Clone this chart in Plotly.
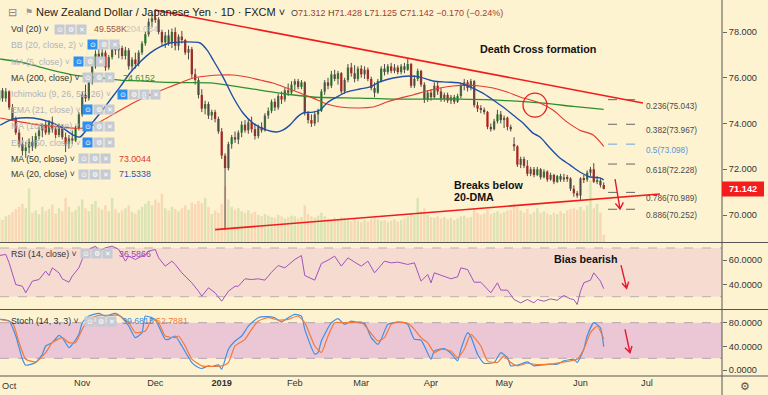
import plotly.graph_objects as go

# ---------------- data ----------------
# bar index 0 = 1 Oct 2018 (no bars on 25 Dec and 1 Jan)
FIRST_BAR = -2
month_ticks = [0, 23, 45, 65, 87, 107, 128, 150, 173, 193]
month_labels = ["Oct", "Nov", "Dec", "<b>2019</b>", "Feb", "Mar", "Apr", "May", "Jun", "Jul"]
price_ticks = [70, 72, 74, 76, 78]
rsi_ticks = [40, 60]
stoch_ticks = [0, 40, 80]

opens = [
    75.00, 75.45, 75.10, 75.40, 74.70, 74.20, 73.60, 73.10, 72.80, 72.95,
    73.20, 73.00, 73.45, 73.70, 73.95, 73.60, 74.05, 73.75, 73.50, 73.90,
    73.40, 73.10, 73.35, 73.25, 73.80, 74.40, 75.25, 75.10, 75.80, 76.50,
    77.05, 76.70, 77.10, 76.45, 76.90, 77.35, 77.20, 77.30, 76.95, 77.20,
    76.50, 76.80, 76.60, 77.10, 77.50, 77.90, 78.45, 78.60, 78.55, 78.00,
    77.55, 77.85, 77.50, 78.00, 77.40, 77.80, 77.65, 77.10, 77.25, 76.15,
    75.90, 75.25, 74.65, 74.85, 74.35, 74.50, 74.20, 73.65, 72.60, 72.05,
    73.10, 73.40, 73.30, 73.60, 73.95, 73.70, 74.05, 73.75, 73.45, 73.85,
    73.70, 74.35, 74.55, 74.95, 74.70, 75.20, 75.05, 75.45, 75.35, 75.70,
    75.85, 75.60, 75.80, 74.45, 74.15, 74.00, 74.40, 74.55, 75.40, 75.80,
    75.65, 76.15, 75.95, 76.20, 75.40, 75.90, 76.45, 76.20, 75.95, 76.40,
    76.15, 76.35, 75.95, 75.55, 75.35, 75.85, 76.40, 76.25, 76.50, 76.30,
    76.45, 76.25, 76.50, 76.35, 76.60, 75.65, 75.95, 76.30, 75.70, 75.05,
    75.35, 75.15, 75.65, 75.40, 75.10, 75.25, 75.00, 75.15, 74.95, 75.20,
    75.65, 75.80, 75.55, 75.85, 74.80, 74.65, 74.60, 74.50, 73.85, 73.75,
    74.10, 74.40, 74.15, 74.25, 73.85, 73.10, 73.00, 72.20, 72.45, 72.15,
    71.80, 72.00, 71.75, 72.00, 71.65, 71.90, 71.55, 71.75, 71.45, 71.70,
    71.55, 71.65, 71.60, 71.15, 70.95, 70.85, 71.60, 71.55, 71.85, 72.00,
    71.45, 71.50, 71.312]
highs = [
    75.60, 75.55, 75.55, 75.45, 74.85, 74.30, 73.75, 73.40, 73.20, 73.35,
    73.45, 73.60, 73.85, 74.00, 74.10, 74.15, 74.30, 73.90, 74.00, 73.95,
    73.60, 73.50, 73.70, 73.90, 74.50, 75.40, 75.70, 75.90, 76.60, 77.20,
    77.25, 77.30, 77.20, 77.00, 77.50, 77.55, 77.45, 77.40, 77.35, 77.30,
    76.90, 77.10, 77.20, 77.60, 78.00, 78.60, 78.80, 79.00, 78.65, 78.10,
    78.00, 78.10, 78.15, 78.20, 77.90, 78.05, 77.70, 77.40, 77.35, 76.40,
    76.00, 75.50, 75.00, 74.95, 74.60, 74.60, 74.30, 73.80, 72.70, 73.20,
    73.50, 73.65, 73.70, 74.10, 74.15, 74.20, 74.30, 74.00, 73.95, 74.05,
    74.45, 74.70, 75.05, 75.10, 75.30, 75.40, 75.55, 75.75, 75.85, 75.95,
    75.95, 75.90, 75.85, 74.55, 74.40, 74.50, 74.65, 75.50, 75.90, 76.00,
    76.30, 76.35, 76.30, 76.25, 76.00, 76.60, 76.65, 76.55, 76.50, 76.55,
    76.50, 76.45, 76.05, 75.80, 75.95, 76.50, 76.60, 76.60, 76.65, 76.60,
    76.55, 76.60, 76.65, 76.85, 76.65, 76.10, 76.40, 76.35, 75.80, 75.45,
    75.50, 75.80, 75.85, 75.55, 75.35, 75.35, 75.25, 75.25, 75.30, 75.75,
    75.95, 75.90, 75.95, 75.90, 74.95, 74.80, 74.70, 74.55, 74.00, 74.20,
    74.60, 74.55, 74.35, 74.30, 73.95, 73.40, 73.05, 72.55, 72.55, 72.40,
    72.10, 72.10, 72.10, 72.05, 72.00, 71.95, 71.85, 71.80, 71.75, 71.80,
    71.80, 71.75, 71.65, 71.30, 71.05, 71.65, 71.75, 71.95, 72.10, 72.27,
    71.70, 71.60, 71.428]
lows = [
    74.90, 74.95, 74.95, 74.60, 74.10, 73.50, 72.95, 72.60, 72.50, 72.70,
    72.80, 72.90, 73.30, 73.40, 73.50, 73.50, 73.60, 73.35, 73.40, 73.30,
    72.75, 72.90, 73.10, 73.20, 73.70, 74.30, 74.95, 75.00, 75.70, 76.40,
    76.50, 76.50, 76.30, 76.35, 76.80, 77.00, 76.85, 76.80, 76.80, 76.35,
    76.30, 76.40, 76.50, 77.00, 77.40, 77.80, 78.20, 78.40, 77.90, 77.40,
    77.30, 77.40, 77.30, 77.20, 77.20, 77.50, 77.00, 76.80, 76.00, 75.70,
    75.10, 74.50, 74.40, 74.20, 74.15, 74.05, 73.55, 72.45, 69.35, 71.95,
    72.90, 73.15, 73.10, 73.40, 73.60, 73.55, 73.60, 73.30, 73.35, 73.60,
    73.65, 74.20, 74.45, 74.55, 74.60, 74.85, 74.95, 75.20, 75.25, 75.45,
    75.50, 75.50, 74.35, 74.00, 73.85, 73.90, 74.05, 74.50, 75.25, 75.50,
    75.55, 75.85, 75.70, 75.30, 75.30, 75.80, 76.05, 75.80, 75.85, 76.00,
    75.95, 75.85, 75.45, 75.15, 75.30, 75.80, 76.10, 76.15, 76.20, 76.20,
    76.15, 76.15, 76.20, 76.30, 75.55, 75.55, 75.85, 75.60, 74.90, 74.95,
    75.00, 75.10, 75.25, 74.95, 74.95, 74.90, 74.85, 74.85, 74.90, 75.10,
    75.45, 75.40, 75.45, 74.70, 74.50, 74.45, 74.40, 73.75, 73.65, 73.70,
    74.00, 74.00, 73.80, 73.70, 73.65, 72.80, 72.10, 72.05, 72.05, 71.70,
    71.70, 71.65, 71.70, 71.55, 71.60, 71.45, 71.50, 71.35, 71.40, 71.45,
    71.45, 71.45, 71.05, 70.80, 70.75, 70.66, 71.40, 71.45, 71.70, 71.40,
    71.35, 71.20, 71.125]
closes = [
    75.45, 75.10, 75.40, 74.70, 74.20, 73.60, 73.10, 72.80, 72.95, 73.20,
    73.00, 73.45, 73.70, 73.95, 73.60, 74.05, 73.75, 73.50, 73.90, 73.40,
    73.10, 73.35, 73.25, 73.80, 74.40, 75.25, 75.10, 75.80, 76.50, 77.05,
    76.70, 77.10, 76.45, 76.90, 77.35, 77.20, 77.30, 76.95, 77.20, 76.50,
    76.80, 76.60, 77.10, 77.50, 77.90, 78.45, 78.60, 78.55, 78.00, 77.55,
    77.85, 77.50, 78.00, 77.40, 77.80, 77.65, 77.10, 77.25, 76.15, 75.90,
    75.25, 74.65, 74.85, 74.35, 74.50, 74.20, 73.65, 72.60, 72.05, 73.10,
    73.40, 73.30, 73.60, 73.95, 73.70, 74.05, 73.75, 73.45, 73.85, 73.70,
    74.35, 74.55, 74.95, 74.70, 75.20, 75.05, 75.45, 75.35, 75.70, 75.85,
    75.60, 75.80, 74.45, 74.15, 74.00, 74.40, 74.55, 75.40, 75.80, 75.65,
    76.15, 75.95, 76.20, 75.40, 75.90, 76.45, 76.20, 75.95, 76.40, 76.15,
    76.35, 75.95, 75.55, 75.35, 75.85, 76.40, 76.25, 76.50, 76.30, 76.45,
    76.25, 76.50, 76.35, 76.60, 75.65, 75.95, 76.30, 75.70, 75.05, 75.35,
    75.15, 75.65, 75.40, 75.10, 75.25, 75.00, 75.15, 74.95, 75.20, 75.65,
    75.80, 75.55, 75.85, 74.80, 74.65, 74.60, 74.50, 73.85, 73.75, 74.10,
    74.40, 74.15, 74.25, 73.85, 73.75, 73.00, 72.20, 72.45, 72.15, 71.80,
    72.00, 71.75, 72.00, 71.65, 71.90, 71.55, 71.75, 71.45, 71.70, 71.55,
    71.65, 71.60, 71.15, 70.95, 70.85, 71.60, 71.55, 71.85, 72.00, 71.45,
    71.50, 71.31, 71.142]
volume_k = [
    165, 150, 175, 185, 205, 225, 240, 260, 230, 365,
    200, 215, 190, 240, 210, 225, 255, 195, 230, 210,
    300, 240, 205, 220, 245, 290, 230, 210, 260, 280,
    235, 220, 250, 210, 300, 225, 200, 215, 230, 250,
    205, 195, 220, 240, 260, 280, 250, 290, 270, 330,
    230, 215, 240, 225, 210, 230, 250, 220, 270, 260,
    280, 265, 300, 240, 190, 215, 200, 260, 380, 290,
    240, 220, 230, 210, 200, 215, 195, 205, 185, 175,
    190, 180, 170, 165, 185, 175, 160, 170, 180, 175,
    160, 170, 250, 190, 175, 165, 180, 200, 175, 160,
    150, 165, 155, 170, 160, 150, 140, 155, 145, 135,
    150, 140, 160, 170, 155, 145, 150, 135, 145, 155,
    140, 150, 160, 175, 200, 180, 300, 210, 230, 185,
    170, 165, 175, 160, 170, 155, 165, 150, 160, 175,
    180, 165, 170, 230, 200, 185, 195, 220, 190, 200,
    210, 195, 205, 215, 220, 260, 240, 215, 200, 225,
    190, 205, 230, 200, 210, 195, 185, 200, 190, 210,
    195, 215, 225, 230, 220, 240, 215, 250, 420, 230,
    260, 200, 49.558]

ma20_x = [-1.7, 1.3, 4.3, 8.2, 13.3, 17.2, 20.2, 22.3, 24.7, 28.4,
          31.4, 34.4, 37.4, 40.4, 43.4, 46.4, 49.4, 52.4, 56.4, 58.5,
          60.6, 62.4, 65.4, 68.4, 71.4, 74.4, 78.6, 81.6, 83.4, 85.5,
          87.7, 89.5, 92.5, 94.6, 96.7, 99.7, 102.7, 106.6, 109.6, 112.6,
          116.6, 121.7, 124.7, 128.6, 132.8, 136.7, 139.7, 143.6, 146.7, 149.7,
          152.7, 155.7, 158.7, 160.8, 163.8, 166.8, 169.8, 172.8, 175.9, 178.9, 180]
ma20_y = [73.93, 74.15, 74.24, 74.24, 74.07, 73.80, 73.50, 73.41, 73.80, 74.46,
          75.03, 75.60, 76.21, 76.69, 77.08, 77.35, 77.52, 77.56, 77.56, 77.52,
          77.21, 76.78, 76.03, 75.16, 74.46, 74.02, 73.71, 73.63, 73.71, 73.93,
          74.28, 74.46, 74.50, 74.59, 74.90, 75.16, 75.38, 75.51, 75.60, 75.82,
          75.99, 76.08, 76.03, 75.86, 75.81, 75.77, 75.60, 75.33, 75.03, 74.72,
          74.37, 74.02, 73.58, 73.41, 72.93, 72.49, 72.19, 71.88, 71.66, 71.62, 71.5338]
ma50_x = [-1.7, 4.3, 10.3, 16.3, 20.2, 23.2, 26.3, 29.3, 33.5, 38.3,
          43.4, 48.5, 52.4, 56.4, 60.6, 64.5, 68.4, 72.6, 76.5, 80.4,
          84.6, 88.6, 92.5, 96.7, 100.6, 106.6, 110.5, 114.7, 118.7, 122.6,
          126.8, 130.7, 134.6, 138.8, 142.7, 146.7, 150.9, 154.8, 160.8, 164.7,
          168.9, 172.8, 176.8, 180]
ma50_y = [74.24, 74.07, 73.93, 73.85, 73.80, 73.80, 73.93, 74.15, 74.50, 74.90,
          75.25, 75.55, 75.77, 75.99, 76.08, 76.12, 76.12, 76.03, 75.90, 75.77,
          75.55, 75.33, 75.11, 74.85, 74.72, 74.68, 74.72, 74.94, 75.11, 75.25,
          75.42, 75.55, 75.64, 75.68, 75.64, 75.55, 75.38, 75.16, 74.90, 74.59,
          74.07, 73.71, 73.50, 73.0044]
ma200_x = [-1.7, 4.3, 10.3, 16.3, 22.3, 28.4, 34.4, 40.4, 46.4, 52.4, 62.4,
           72.6, 82.5, 92.5, 106.6, 116.6, 126.8, 136.7, 146.7, 160.8, 170.8, 180]
ma200_y = [76.82, 76.69, 76.47, 76.25, 76.08, 75.99, 75.90, 75.86, 75.81, 75.79, 75.77,
           75.55, 75.33, 75.16, 75.11, 75.07, 75.07, 75.07, 75.03, 74.90, 74.75, 74.6152]

rsi_x = [-2, 0, 1, 3, 5, 6, 8, 10, 12, 13, 14, 16, 17, 19, 20, 22, 23, 24, 25, 27,
         28, 30, 32, 34, 36, 37, 39, 42, 43, 45, 46, 48, 50, 51, 53, 56, 58, 59, 61, 63,
         65, 67, 69, 70, 72, 74, 76, 78, 80, 82, 84, 87, 89, 90, 93, 95, 97, 99, 101, 103,
         105, 107, 109, 111, 114, 116, 118, 121, 123, 125, 127, 128, 129, 132, 134, 136, 137, 139, 141, 143,
         146, 148, 149, 151, 153, 155, 156, 157, 159, 160, 162, 164, 166, 168, 170, 171, 172, 173, 174, 176,
         177, 179, 180]
rsi_y = [63.8, 64.7, 57.8, 40.0, 38.6, 33.2, 42.8, 44.1, 51.0, 47.4, 53.7, 49.6, 44.7, 41.9, 46.9, 53.7, 60.6, 66.0, 68.8, 71.5,
         67.4, 70.2, 71.5, 68.8, 59.2, 63.3, 60.6, 64.7, 67.4, 68.8, 61.9, 55.1, 59.2, 56.5, 49.6, 41.4, 34.5, 30.4, 37.3, 33.2,
         26.3, 34.5, 38.6, 38.6, 44.7, 44.1, 44.7, 43.6, 50.1, 55.6, 53.7, 60.6, 63.8, 47.4, 43.6, 57.3, 60.0, 63.3, 55.1, 61.9,
         58.4, 55.1, 59.2, 49.6, 59.2, 57.8, 58.4, 56.5, 57.8, 42.8, 48.2, 41.4, 49.6, 46.9, 44.7, 46.3, 53.7, 52.3, 41.9, 41.9,
         33.2, 41.4, 35.4, 35.4, 27.7, 24.9, 26.3, 27.7, 24.9, 27.7, 26.3, 28.2, 27.1, 31.0, 28.2, 27.7, 23.6, 34.5, 41.4, 43.6,
         49.6, 42.8, 36.5866]

stoch_k_x = [-2, 1, 3, 5, 6, 9, 11, 12, 14, 16, 17, 19, 20, 22, 23, 25, 28, 30, 33, 35,
             37, 39, 41, 42, 44, 45, 48, 49, 51, 53, 56, 58, 59, 61, 62, 64, 65, 67, 69, 71,
             73, 76, 78, 81, 83, 85, 87, 89, 90, 93, 94, 95, 98, 100, 102, 104, 106, 108, 110, 112,
             113, 115, 118, 120, 121, 123, 125, 126, 128, 129, 132, 134, 136, 137, 139, 140, 142, 144, 147, 149,
             151, 152, 154, 157, 159, 161, 164, 166, 168, 171, 172, 174, 175, 177, 179, 180]
stoch_k_y = [85.6, 82.8, 57.6, 18.5, 8.4, 12.9, 26.9, 40.8, 46.4, 58.7, 54.8, 38.0, 43.6, 60.4, 80.0, 91.2, 95.7, 91.2, 95.7, 88.4,
             74.4, 54.8, 63.2, 91.2, 88.4, 85.6, 52.0, 52.0, 57.6, 40.8, 12.9, 4.5, 2.8, 7.3, 6.2, 9.0, 1.7, 35.2, 49.2, 57.6,
             74.4, 88.4, 90.1, 88.4, 81.1, 88.4, 94.0, 91.2, 68.8, 26.9, 29.6, 49.2, 80.0, 86.7, 77.2, 82.8, 80.0, 78.9, 54.8, 43.6,
             52.0, 77.2, 81.1, 80.0, 77.2, 52.0, 50.9, 40.8, 18.5, 32.4, 36.4, 28.5, 15.7, 35.2, 63.2, 56.5, 26.9, 11.7, 12.9, 29.6,
             21.3, 7.3, 8.4, 14.0, 7.3, 8.4, 10.1, 10.1, 15.7, 18.5, 12.9, 35.2, 57.6, 80.0, 71.6, 39.6815]
stoch_d_x = [-2, 2, 4, 6, 9, 12, 14, 17, 19, 21, 23, 25, 28, 31, 34, 37, 39, 42, 44, 46,
             48, 51, 52, 54, 56, 59, 62, 65, 67, 69, 72, 74, 76, 79, 82, 85, 88, 90, 93, 95,
             97, 99, 101, 104, 107, 109, 112, 114, 116, 118, 121, 123, 125, 127, 129, 131, 134, 136, 138, 140,
             143, 145, 148, 150, 152, 154, 157, 160, 164, 167, 170, 172, 174, 176, 178, 180]
stoch_d_y = [85.6, 80.0, 46.4, 18.5, 14.0, 29.6, 46.4, 54.8, 46.4, 46.4, 68.8, 85.6, 92.3, 92.3, 92.3, 80.0, 63.2, 66.0, 85.6, 80.0,
             57.6, 54.8, 57.6, 40.8, 18.5, 7.3, 6.2, 7.3, 12.9, 40.8, 52.0, 68.8, 82.8, 88.4, 84.5, 85.6, 91.2, 80.0, 40.8, 29.6,
             57.6, 80.0, 80.0, 80.0, 81.1, 68.8, 49.2, 54.8, 77.2, 81.1, 78.9, 68.8, 54.8, 46.4, 29.6, 35.2, 32.4, 21.3, 35.2, 60.4,
             40.8, 15.7, 12.9, 24.1, 12.9, 7.3, 11.7, 9.5, 10.1, 12.9, 15.7, 18.5, 35.2, 63.2, 74.4, 52.7881]

fib_ratios = ["0.236", "0.382", "0.5", "0.618", "0.786", "0.886"]
fib_levels = [75.043, 73.967, 73.098, 72.228, 70.989, 70.252]
fib_span = [181.3, 190.9]          # bar-index extent of the fib segments

# drawings (bar index, value)
upper_trend = [(44.9, 78.96), (191.8, 74.90)]
lower_trend = [(63.0, 69.36), (196.9, 70.92)]
cross_circle = [(155.7, 74.28), (162.9, 75.33)]
price_arrow = [(183.4, 71.57), (184.9, 70.26), (183.5, 70.51), (185.9, 70.55)]
rsi_arrow = [(185.2, 56.0), (186.9, 36.9), (185.5, 41.1), (187.5, 42.4)]
stoch_arrow = [(186.4, 68.9), (187.9, 29.4), (186.4, 37.9), (188.5, 40.7)]

last_price = 71.142

# ---------------- styling ----------------
FONT = "Liberation Sans, Arial, sans-serif"
BG = "#FEF3D1"
UP, DN = "#3b8d3d", "#bd2a22"
W_PLOT, H_PLOT = 722, 376
X_RANGE = [-1.75, 215.6]


def px(x):
    return x / W_PLOT


def py(y):
    return (H_PLOT - y) / H_PLOT


n = len(closes)
bars = list(range(FIRST_BAR, FIRST_BAR + n))
is_up = [c >= o for o, c in zip(opens, closes)]
body_base = [min(o, c) for o, c in zip(opens, closes)]
body_len = [max(abs(c - o), 0.015) for o, c in zip(opens, closes)]
wick_x, wick_y = [], []
for b, lo, hi in zip(bars, lows, highs):
    wick_x += [b, b, None]
    wick_y += [lo, hi, None]

fig = go.Figure()
fig.add_trace(go.Bar(x=bars, y=volume_k, width=0.75, xaxis="x", yaxis="y",
                     marker=dict(color=["rgba(120,180,90,0.26)" if u else "rgba(235,135,95,0.26)" for u in is_up],
                                 line_width=0)))
fig.add_trace(go.Scatter(x=wick_x, y=wick_y, mode="lines", xaxis="x", yaxis="y4",
                         line=dict(color="#4a4a4a", width=1)))
fig.add_trace(go.Bar(x=bars, y=body_len, base=body_base, width=0.7, xaxis="x", yaxis="y4",
                     marker=dict(color=[UP if u else DN for u in is_up], line_width=0)))
fig.add_trace(go.Scatter(x=ma200_x, y=ma200_y, mode="lines", xaxis="x", yaxis="y4",
                         line=dict(color="#2f8f2f", width=1.3, shape="spline", smoothing=0.8)))
fig.add_trace(go.Scatter(x=ma50_x, y=ma50_y, mode="lines", xaxis="x", yaxis="y4",
                         line=dict(color="#e23b32", width=1.1, shape="spline", smoothing=0.8)))
fig.add_trace(go.Scatter(x=ma20_x, y=ma20_y, mode="lines", xaxis="x", yaxis="y4",
                         line=dict(color="#1f4fa8", width=1.4, shape="spline", smoothing=0.8)))
fig.add_trace(go.Scatter(x=rsi_x, y=rsi_y, mode="lines", xaxis="x", yaxis="y2",
                         line=dict(color="#a052c0", width=1)))
fig.add_trace(go.Scatter(x=stoch_k_x, y=stoch_k_y, mode="lines", xaxis="x", yaxis="y3",
                         line=dict(color="#3d90e6", width=1.2, shape="spline", smoothing=0.5)))
fig.add_trace(go.Scatter(x=stoch_d_x, y=stoch_d_y, mode="lines", xaxis="x", yaxis="y3",
                         line=dict(color="#f2793a", width=1.2, shape="spline", smoothing=0.5)))

shapes = []
# indicator bands
shapes.append(dict(type="rect", xref="paper", yref="y2", x0=0, x1=1, y0=30, y1=70,
                   fillcolor="#F6DCD0", line_width=0, layer="below"))
for lv in (30, 70):
    shapes.append(dict(type="line", xref="paper", yref="y2", x0=0, x1=1, y0=lv, y1=lv,
                       line=dict(color="#b9aeae", width=1, dash="dash"), layer="below"))
shapes.append(dict(type="rect", xref="paper", yref="y3", x0=0, x1=1, y0=20, y1=80,
                   fillcolor="#EBC7D6", line_width=0, layer="below"))
for lv in (20, 80):
    shapes.append(dict(type="line", xref="paper", yref="y3", x0=0, x1=1, y0=lv, y1=lv,
                       line=dict(color="#b3a6ad", width=1, dash="dash"), layer="below"))
# pane dividers and axis borders
for yy in (242.5, 309.5, 376):
    shapes.append(dict(type="line", xref="paper", yref="paper", x0=0, x1=768 / W_PLOT,
                       y0=py(yy), y1=py(yy), line=dict(color="#555555", width=1)))
shapes.append(dict(type="line", xref="paper", yref="paper", x0=1, x1=1, y0=py(395), y1=1,
                   line=dict(color="#555555", width=1)))
# trend lines
for (a, b) in (upper_trend, lower_trend):
    shapes.append(dict(type="line", xref="x", yref="y4", x0=a[0], y0=a[1], x1=b[0], y1=b[1],
                       line=dict(color="#f01c1c", width=1.6)))
# circle around the death cross
shapes.append(dict(type="circle", xref="x", yref="y4", x0=cross_circle[0][0], y0=cross_circle[0][1],
                   x1=cross_circle[1][0], y1=cross_circle[1][1], line=dict(color="#e8201c", width=1.3)))
# fibonacci levels
for r, lv in zip(fib_ratios, fib_levels):
    col = "#6fa3dc" if r == "0.5" else "#666666"
    shapes.append(dict(type="line", xref="x", yref="y4", x0=fib_span[0], x1=fib_span[1], y0=lv, y1=lv,
                       line=dict(color=col, width=1, dash="dash")))
# arrows
for arrow, yref in ((price_arrow, "y4"), (rsi_arrow, "y2"), (stoch_arrow, "y3")):
    t, tip, a1, a2 = arrow
    path = (f"M {t[0]},{t[1]} L {tip[0]},{tip[1]} M {a1[0]},{a1[1]} L {tip[0]},{tip[1]} "
            f"L {a2[0]},{a2[1]}")
    shapes.append(dict(type="path", xref="x", yref=yref, path=path,
                       line=dict(color="#e8162e", width=1.4)))
# last price box
shapes.append(dict(type="rect", xref="paper", yref="paper", x0=1, x1=764 / W_PLOT,
                   y0=py(196.5), y1=py(181.5), fillcolor="#f31d1d", line_width=0))

ann = []


def txt(x, y, text, size, color, xanchor="left", bold=False, xref="paper", yref="paper", bg=None):
    d = dict(x=x, y=y, xref=xref, yref=yref, text=f"<b>{text}</b>" if bold else text,
             showarrow=False, xanchor=xanchor, yanchor="middle",
             font=dict(size=size, color=color, family=FONT))
    if bg:
        d["bgcolor"] = bg
    ann.append(d)


# header
txt(px(12.5), py(12.5), "⊟", 11, "#8a8a8a", xanchor="center")
txt(px(28.5), py(12.5), "⚑", 9, "#9a9a9a", xanchor="center")
txt(px(34), py(12.5), "New Zealand Dollar / Japanese Yen · 1D · FXCM ˅", 11, "#222222")
vc = "#a4402f"
ohlc = (f"O<span style='color:{vc}'>71.312</span> H<span style='color:{vc}'>71.428</span> "
        f"L<span style='color:{vc}'>71.125</span> C<span style='color:{vc}'>71.142</span> "
        f"<span style='color:{vc}'>−0.170 (−0.24%)</span>")
txt(px(289), py(13), ohlc, 9, "#444444")

# legend rows: label, active, icon x, first icon blue, icon count, values, row y
DARK, GREY = "#333333", "#aeb2bd"
legend_rows = [
    ("Vol (20)", True, 55, False, 3, [("49.558K", 92, "#a0523d"), ("204.084", 124, "#cdc4b8")], 29),
    ("BB (20, close, 2)", False, 88, True, 3, [], 45),
    ("MA (5, close)", False, 74, True, 3, [], 61.7),
    ("MA (200, close)", True, 83, False, 3, [("74.6152", 121, "#3a8f3a")], 77.7),
    ("Ichimoku (9, 26, 52, 26)", False, 118, True, 4, [], 94),
    ("EMA (21, close)", False, 83, True, 3, [], 110),
    ("MA (100, close)", False, 83, True, 3, [], 126),
    ("EMA (50, close)", False, 83, True, 3, [], 142.7),
    ("MA (50, close)", True, 79, False, 3, [("73.0044", 117, "#e0382e")], 158.7),
    ("MA (20, close)", True, 79, False, 3, [("71.5338", 117, "#2a56b0")], 174.3),
    ("RSI (14, close)", True, 81, False, 3, [("36.5866", 117, "#9b3db8")], 254),
    ("Stoch (14, 3, 3)", True, 85, False, 3, [("39.6815", 120, "#3b8ee0"), ("52.7881", 154, "#f07a35")], 321),
]
for label, active, ix, blue, nic, vals, yy in legend_rows:
    txt(px(9), py(yy), label + " ˅", 8.8, DARK if active else GREY)
    glyphs = ["⊙", "⚙", "{}", "✕"] if nic == 4 else ["⊙", "⚙", "✕"]
    for k, g in enumerate(glyphs):
        bgc = "#2d8ff0" if (blue and k == 0) else "#c6cad3"
        ann.append(dict(x=px(ix + 11 * k + 4.5), y=py(yy), xref="paper", yref="paper", text=g,
                        showarrow=False, xanchor="center", yanchor="middle", width=9, height=9,
                        bgcolor=bgc, borderpad=0, font=dict(size=6.5, color="white", family=FONT)))
    for v, vx, vcol in vals:
        txt(px(vx), py(yy), v, 8.8, vcol)

# chart notes
txt(142.1, 77.26, "Death Cross formation", 10.8, "#111111", bold=True, xref="x", yref="y4")
txt(134.3, 71.31, "Breaks below", 10.7, "#111111", bold=True, xref="x", yref="y4")
txt(134.3, 70.79, "20-DMA", 10.7, "#111111", bold=True, xref="x", yref="y4")
txt(164.3, 60.97, "Bias bearish", 10.7, "#111111", bold=True, xref="x", yref="y2")

# fibonacci labels
for r, lv in zip(fib_ratios, fib_levels):
    col = "#5b95d6" if r == "0.5" else "#4a4a4a"
    ann.append(dict(x=fib_span[1] + 1.2, y=lv, xref="x", yref="y4", text=f"{r}({lv:.3f})",
                    showarrow=False, xanchor="left", yanchor="top",
                    font=dict(size=8.2, color=col, family=FONT)))

# first month label sits on the left edge (kept fully inside the picture)
txt(0, py(386), month_labels[0], 9.2, "#333333", xanchor="left")

# last price label & gear
txt(px(743), py(189), f"{last_price:.3f}", 9.2, "white", xanchor="center", bold=True)
txt(px(745), py(385.5), "⚙", 11, "#555555", xanchor="center")

tickfont = dict(size=9.2, color="#333333", family=FONT)
fig.update_layout(
    width=768, height=395, autosize=False,
    margin=dict(l=0, r=46, t=0, b=19),
    paper_bgcolor=BG, plot_bgcolor=BG,
    showlegend=False, hovermode=False, barmode="overlay", dragmode=False,
    font=dict(family=FONT),
    xaxis=dict(domain=[0, 1], anchor="y3", range=X_RANGE, tickvals=month_ticks[1:],
               ticktext=month_labels[1:], showgrid=False, zeroline=False, showline=False, ticks="",
               tickfont=tickfont),
    yaxis=dict(domain=[py(242), 1], range=[0, 1650], visible=False, fixedrange=True),
    yaxis4=dict(overlaying="y", side="right", anchor="x", range=[68.82, 79.40],
                tickvals=price_ticks, ticktext=[f"{v:.3f}" for v in price_ticks],
                showgrid=False, zeroline=False, showline=False,
                ticks="outside", ticklen=4, tickcolor="#666666", tickfont=tickfont),
    yaxis2=dict(domain=[py(309.5), py(243)], anchor="x", side="right", range=[19.5, 74.1],
                tickvals=rsi_ticks, ticktext=[f"{v:.4f}" for v in rsi_ticks],
                showgrid=False, zeroline=False, showline=False,
                ticks="outside", ticklen=4, tickcolor="#666666", tickfont=tickfont),
    yaxis3=dict(domain=[0, py(310)], anchor="x", side="right", range=[-9.8, 101.4],
                tickvals=stoch_ticks, ticktext=[f"{v:.4f}" for v in stoch_ticks],
                showgrid=False, zeroline=False, showline=False,
                ticks="outside", ticklen=4, tickcolor="#666666", tickfont=tickfont),
    shapes=shapes,
    annotations=ann,
)

fig.write_html("out.html", config={"displayModeBar": False},
               post_script="document.body.style.margin='0';document.body.style.overflow='hidden';")
